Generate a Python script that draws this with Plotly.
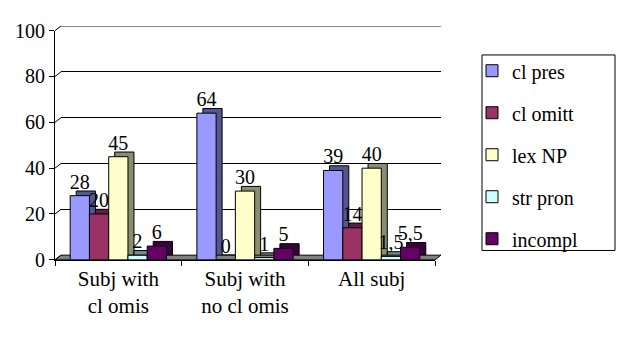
import plotly.graph_objects as go

categories = ["Subj with<br>cl omis", "Subj with<br>no cl omis", "All subj"]
series_names = ["cl pres", "cl omitt", "lex NP", "str pron", "incompl"]
cl_pres = [28, 64, 39]
cl_omitt = [20, 0, 14]
lex_np = [45, 30, 40]
str_pron = [2, 1, 1.5]
incompl = [6, 5, 5.5]
y_ticks = [0, 20, 40, 60, 80, 100]

series_values = [cl_pres, cl_omitt, lex_np, str_pron, incompl]
front_colors = ["#9999FF", "#993366", "#FFFFCC", "#CCFFFF", "#660066"]
side_colors = ["#55558F", "#5C1F3D", "#8C8C70", "#708C8C", "#3D003D"]

W, H = 622, 341
FX0, FX1 = 55, 435
FY0, FY100 = 266, 21
DX, DY = 6, 5

def px(x):
    return x / W

def py(y):
    return 1 - y / H

def fmt(v):
    return ("%g" % v).replace(".", ",")

FONT = "Times New Roman"
fig = go.Figure()

for name, vals, col in zip(series_names, series_values, side_colors):
    fig.add_trace(go.Bar(
        x=categories, y=vals, name=name, showlegend=False,
        marker=dict(color=col, line=dict(color="black", width=1)),
        xaxis="x", yaxis="y", hoverinfo="skip"))

for name, vals, col in zip(series_names, series_values, front_colors):
    fig.add_trace(go.Bar(
        x=categories, y=vals, name=name, legendgroup=name,
        marker=dict(color=col, line=dict(color="black", width=1)),
        text=[fmt(v) for v in vals], textposition="outside",
        constraintext="none",
        textfont=dict(family=FONT, size=20, color="black"),
        cliponaxis=False,
        xaxis="x2", yaxis="y2"))

shapes = []
shapes.append(dict(type="path", xref="paper", yref="paper", layer="below",
                   path="M %f,%f L %f,%f L %f,%f L %f,%f Z" % (
                       px(FX0), py(FY0), px(FX1), py(FY0),
                       px(FX1 + DX), py(FY0 - DY), px(FX0 + DX), py(FY0 - DY)),
                   fillcolor="#808080", line=dict(color="black", width=1)))
step = (FY0 - FY100) / 100.0
for t in y_ticks:
    yf = FY0 - t * step
    shapes.append(dict(type="line", xref="paper", yref="paper", layer="below",
                       x0=px(FX0), y0=py(yf), x1=px(FX0 + DX), y1=py(yf - DY),
                       line=dict(color="black", width=1)))
shapes.append(dict(type="line", xref="x domain", yref="y", layer="below",
                   x0=0, x1=1, y0=y_ticks[-1], y1=y_ticks[-1],
                   line=dict(color="black", width=1)))
shapes.append(dict(type="rect", xref="paper", yref="paper",
                   x0=px(482), x1=px(615), y0=py(256), y1=py(47),
                   line=dict(color="black", width=1), fillcolor="rgba(0,0,0,0)"))

fig.update_layout(
    width=W, height=H,
    margin=dict(l=0, r=0, t=0, b=0),
    paper_bgcolor="white", plot_bgcolor="rgba(0,0,0,0)",
    barmode="group", bargap=0.24, bargroupgap=0,
    showlegend=True,
    legend=dict(x=px(472), y=py(43), xanchor="left", yanchor="top",
                font=dict(family=FONT, size=20, color="black"),
                tracegroupgap=13, bgcolor="rgba(0,0,0,0)", borderwidth=0,
                itemwidth=30),
    shapes=shapes,
    xaxis=dict(domain=[px(FX0 + DX), px(FX1 + DX)], anchor="y",
               range=[-0.5, 2.5], showticklabels=False, showgrid=False,
               showline=False, zeroline=False, ticks=""),
    yaxis=dict(domain=[py(FY0 - DY), py(FY100 - DY)], anchor="x",
               range=[0, 100], tickvals=y_ticks, showticklabels=False,
               showgrid=True, gridcolor="black", gridwidth=1,
               showline=False, zeroline=False, ticks=""),
    xaxis2=dict(domain=[px(FX0), px(FX1)], anchor="y2",
                range=[-0.5, 2.5], tickson="boundaries", ticks="outside",
                ticklen=5, tickcolor="black", showline=True, linecolor="black",
                showgrid=False, zeroline=False,
                tickfont=dict(family=FONT, size=21, color="black")),
    yaxis2=dict(domain=[py(FY0), py(FY100)], anchor="x2",
                range=[0, 100], tickvals=y_ticks, ticks="outside", ticklen=5,
                tickcolor="black", showline=True, linecolor="black",
                showgrid=False, zeroline=False,
                tickfont=dict(family=FONT, size=20, color="black")),
    font=dict(family=FONT, color="black"),
)

fig.write_html("out.html", config={"displayModeBar": False},
               post_script="document.body.style.margin='0';document.documentElement.style.overflow='hidden';document.body.style.overflow='hidden';")
